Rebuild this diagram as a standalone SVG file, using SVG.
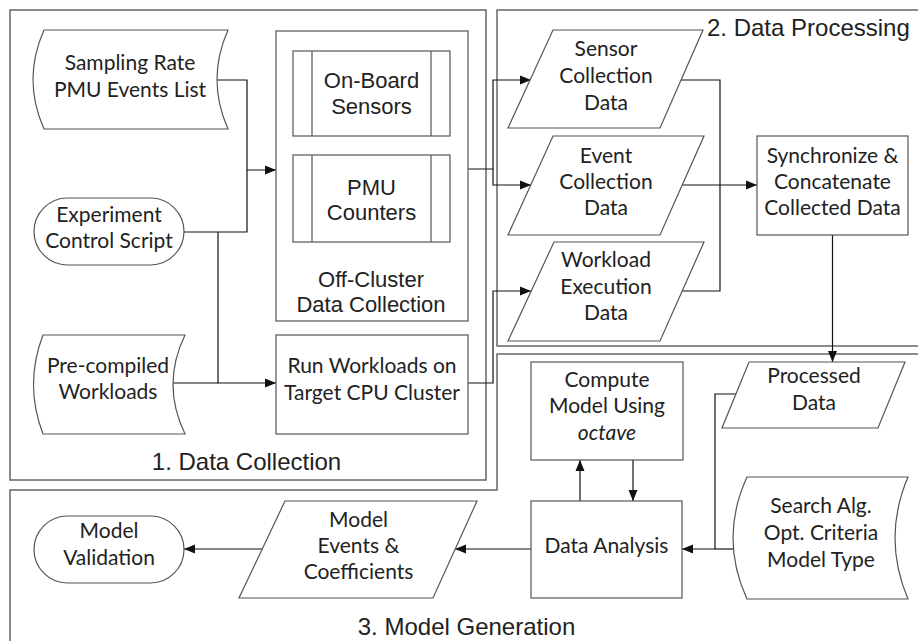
<svg xmlns="http://www.w3.org/2000/svg" width="918" height="641" viewBox="0 0 918 641">
<defs>
<marker id="arr" markerUnits="userSpaceOnUse" markerWidth="12" markerHeight="10" refX="11" refY="5" orient="auto">
<path d="M0,0.5 L11,5 L0,9.5 z" fill="#111"/>
</marker>
<style>
.cl{fill:none;stroke:#666;stroke-width:1.5}
.sh{fill:#fff;stroke:#555;stroke-width:1.2}
.cn{fill:none;stroke:#111;stroke-width:1.2}
.ca{font-family:Lato,"Liberation Sans",sans-serif;font-size:21px;fill:#222;text-anchor:middle}
.ar{font-family:"Liberation Sans",Arial,sans-serif;font-size:22px;fill:#222;text-anchor:middle}
.ti{font-family:"Liberation Sans",Arial,sans-serif;font-size:24px;fill:#222}
</style>
</defs>
<rect width="918" height="641" fill="#fff"/>
<g id="clusters">
<g id="cluster1"><rect class="cl" x="10" y="10" width="476" height="470"/><text class="ti" x="246.5" y="470" text-anchor="middle">1. Data Collection</text></g>
<g id="cluster2"><rect class="cl" x="497" y="10" width="430" height="336"/><text class="ti" x="707" y="36">2. Data Processing</text></g>
<g id="cluster3"><path class="cl" d="M10,490 H497 V354 H930 V650 H10 Z"/><text class="ti" x="466.5" y="635" text-anchor="middle">3. Model Generation</text></g>
</g>
<g id="connectors">
<path class="cn" d="M217,80 H247 V170 H276" marker-end="url(#arr)"/>
<path class="cn" d="M184,232 H247 V170"/>
<path class="cn" d="M218,232 V383 H276" marker-end="url(#arr)"/>
<path class="cn" d="M173,383 H218"/>
<path class="cn" d="M468,169 H493 V80 H531" marker-end="url(#arr)"/>
<path class="cn" d="M493,169 V185 H531" marker-end="url(#arr)"/>
<path class="cn" d="M468,383 H493 V291 H531" marker-end="url(#arr)"/>
<path class="cn" d="M681,80 H720 V185"/>
<path class="cn" d="M682,185 H757" marker-end="url(#arr)"/>
<path class="cn" d="M682,291 H720 V185"/>
<path class="cn" d="M832.5,235 V362" marker-end="url(#arr)"/>
<path class="cn" d="M736,394 H715 V549 H682" marker-end="url(#arr)"/>
<path class="cn" d="M733,549 H715"/>
<path class="cn" d="M580,501 V460" marker-end="url(#arr)"/>
<path class="cn" d="M633,460 V501" marker-end="url(#arr)"/>
<path class="cn" d="M531,549 H455" marker-end="url(#arr)"/>
<path class="cn" d="M262,549 H184" marker-end="url(#arr)"/>
</g>
<g id="sampling">
<path class="sh" d="M44,30 H228 Q206,79.5 228,129 H44 Q22,79.5 44,30 Z"/>
<text class="ca" x="130" y="70">Sampling Rate</text>
<text class="ca" x="130" y="97">PMU Events List</text>
</g>
<g id="experiment">
<rect class="sh" x="34" y="198" width="150" height="67" rx="33.5"/>
<text class="ca" x="109" y="222">Experiment</text>
<text class="ca" x="109" y="248">Control Script</text>
</g>
<g id="precompiled">
<path class="sh" d="M43,335 H185 Q161,384.5 185,434 H43 Q24,384.5 43,335 Z"/>
<text class="ca" x="108" y="373">Pre-compiled</text>
<text class="ca" x="108" y="399">Workloads</text>
</g>
<g id="offcluster">
<rect class="sh" x="276" y="31" width="192" height="290"/>
<text class="ar" x="371" y="287">Off-Cluster</text>
<text class="ar" x="371" y="312">Data Collection</text>
</g>
<g id="onboard">
<rect class="sh" x="293" y="51" width="157" height="85"/>
<line class="sh" x1="312" y1="51" x2="312" y2="136"/>
<line class="sh" x1="431" y1="51" x2="431" y2="136"/>
<text class="ar" x="371.5" y="88">On-Board</text>
<text class="ar" x="371.5" y="114">Sensors</text>
</g>
<g id="pmu">
<rect class="sh" x="293" y="155" width="157" height="87"/>
<line class="sh" x1="312" y1="155" x2="312" y2="242"/>
<line class="sh" x1="431" y1="155" x2="431" y2="242"/>
<text class="ar" x="371.5" y="195">PMU</text>
<text class="ar" x="371.5" y="220">Counters</text>
</g>
<g id="runworkloads">
<rect class="sh" x="276" y="335" width="192" height="99"/>
<text class="ca" x="372" y="373">Run Workloads on</text>
<text class="ca" x="372" y="400">Target CPU Cluster</text>
</g>
<g id="sensordata">
<path class="sh" d="M553,30 H703 L660,128 H508 Z"/>
<text class="ca" x="606" y="56">Sensor</text>
<text class="ca" x="606" y="83">Collection</text>
<text class="ca" x="606" y="110">Data</text>
</g>
<g id="eventdata">
<path class="sh" d="M553,136 H704 L660,235 H508 Z"/>
<text class="ca" x="606" y="163">Event</text>
<text class="ca" x="606" y="189">Collection</text>
<text class="ca" x="606" y="215">Data</text>
</g>
<g id="workloaddata">
<path class="sh" d="M554,242 H704 L660,341 H508 Z"/>
<text class="ca" x="606" y="267">Workload</text>
<text class="ca" x="606" y="294">Execution</text>
<text class="ca" x="606" y="320">Data</text>
</g>
<g id="synchronize">
<rect class="sh" x="757" y="136" width="151" height="99"/>
<text class="ca" x="832.5" y="163">Synchronize &amp;</text>
<text class="ca" x="832.5" y="189">Concatenate</text>
<text class="ca" x="832.5" y="215">Collected Data</text>
</g>
<g id="processed">
<path class="sh" d="M749,362 H905 L878,428 H722 Z"/>
<text class="ca" x="814" y="383">Processed</text>
<text class="ca" x="814" y="410">Data</text>
</g>
<g id="compute">
<rect class="sh" x="531" y="362" width="152" height="98"/>
<text class="ca" x="607" y="387">Compute</text>
<text class="ca" x="607" y="413">Model Using</text>
<text class="ca" x="607" y="440" font-style="italic">octave</text>
</g>
<g id="analysis">
<rect class="sh" x="531" y="501" width="151" height="97"/>
<text class="ca" x="606.5" y="553">Data Analysis</text>
</g>
<g id="search">
<path class="sh" d="M747,477 H908 Q882,538 908,599 H747 Q719,538 747,477 Z"/>
<text class="ca" x="821" y="513">Search Alg.</text>
<text class="ca" x="821" y="540">Opt. Criteria</text>
<text class="ca" x="821" y="567">Model Type</text>
</g>
<g id="modelevents">
<path class="sh" d="M285,501 H477 L433,598 H239 Z"/>
<text class="ca" x="358.5" y="527">Model</text>
<text class="ca" x="358.5" y="553">Events &amp;</text>
<text class="ca" x="358.5" y="579">Coefficients</text>
</g>
<g id="validation">
<rect class="sh" x="34" y="516" width="150" height="67" rx="33.5"/>
<text class="ca" x="109" y="538">Model</text>
<text class="ca" x="109" y="565">Validation</text>
</g>
</svg>
